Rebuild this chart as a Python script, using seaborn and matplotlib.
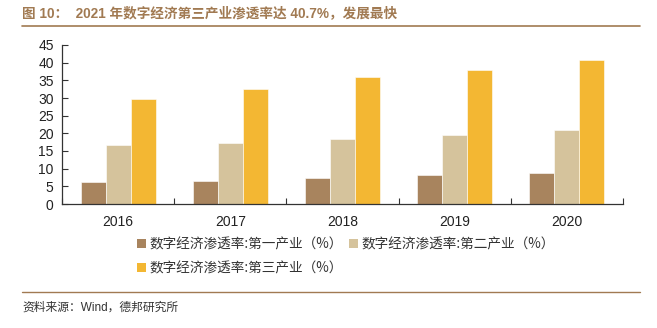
import matplotlib
matplotlib.use("Agg")
import matplotlib.pyplot as plt
import seaborn as sns
import pandas as pd
from matplotlib.patches import Patch
from matplotlib.lines import Line2D

years = ["2016", "2017", "2018", "2019", "2020"]
series_names = ["数字经济渗透率:第一产业（%）", "数字经济渗透率:第二产业（%）", "数字经济渗透率:第三产业（%）"]
primary = [6.2, 6.5, 7.3, 8.2, 8.9]
secondary = [16.8, 17.2, 18.3, 19.5, 21.0]
tertiary = [29.6, 32.6, 35.9, 37.8, 40.7]
colors = ["#A8845E", "#D5C39C", "#F3B733"]
title = "图 10：  2021 年数字经济第三产业渗透率达 40.7%，发展最快"
source = "资料来源：Wind，德邦研究所"

rows = []
for name, vals in zip(series_names, [primary, secondary, tertiary]):
    for y, v in zip(years, vals):
        rows.append({"year": y, "series": name, "value": v})
df = pd.DataFrame(rows)

sns.set_theme(style="white")
plt.rcParams['font.family'] = ['Liberation Sans', 'Noto Sans CJK SC', 'DejaVu Sans']

fig = plt.figure(figsize=(6.57, 3.28), dpi=100)
ax = fig.add_axes([62/657, 1-204/328, (623-62)/657, (204-45)/328])

sns.barplot(data=df, x="year", y="value", hue="series", palette=colors,
            width=0.67, gap=0, ax=ax, legend=False, saturation=1,
            edgecolor="white", linewidth=0.4)

ax.set_xlim(-0.5, 4.5)
ax.set_ylim(0, 45)
ax.set_yticks(range(0, 46, 5))
ax.set_xlabel("")
ax.set_ylabel("")
for s in ["top", "right"]:
    ax.spines[s].set_visible(False)
for s in ["left", "bottom"]:
    ax.spines[s].set_color("#333333")
    ax.spines[s].set_linewidth(0.9)
ax.tick_params(axis="y", direction="in", length=4, width=0.8, color="#333333",
               labelsize=10, labelcolor="#222222", left=True, pad=6)
ax.tick_params(axis="x", which="major", length=0, labelsize=10, labelcolor="#222222", pad=8)
ax.set_xticks([i + 0.5 for i in range(-1, 5)], minor=True)
ax.tick_params(axis="x", which="minor", direction="in", length=4, width=0.8,
               color="#333333", bottom=True)

cjk = ['Noto Sans CJK SC', 'DejaVu Sans']
handles = [Patch(facecolor=c, edgecolor="none") for c in colors]
order = [0, 2, 1]
fig.legend([handles[i] for i in order], [series_names[i] for i in order],
           loc="upper left", bbox_to_anchor=(137/657, 1-237/328),
           ncol=2, frameon=False, prop={"family": cjk, "size": 9.8},
           handlelength=0.65, handleheight=0.65, handletextpad=0.25,
           columnspacing=0.5, labelspacing=0.75, borderaxespad=0, borderpad=0)
for t in fig.legends[0].get_texts():
    t.set_color("#333333")

fig.text(22/657, 1-13/328, title, fontsize=9.8, fontweight="bold", color="#A17A52",
         va="center", ha="left", family=['Liberation Sans', 'Noto Sans CJK SC'])
fig.add_artist(Line2D([22/657, 640/657], [1-26/328, 1-26/328], color="#A17A52", lw=1.2))
fig.add_artist(Line2D([22/657, 640/657], [1-292/328, 1-292/328], color="#A17A52", lw=1.0))
fig.text(22/657, 1-308/328, source, fontsize=8.5, color="#333333", va="center", ha="left",
         family=['Liberation Sans', 'Noto Sans CJK SC'])

fig.savefig("out.png", dpi=100)
